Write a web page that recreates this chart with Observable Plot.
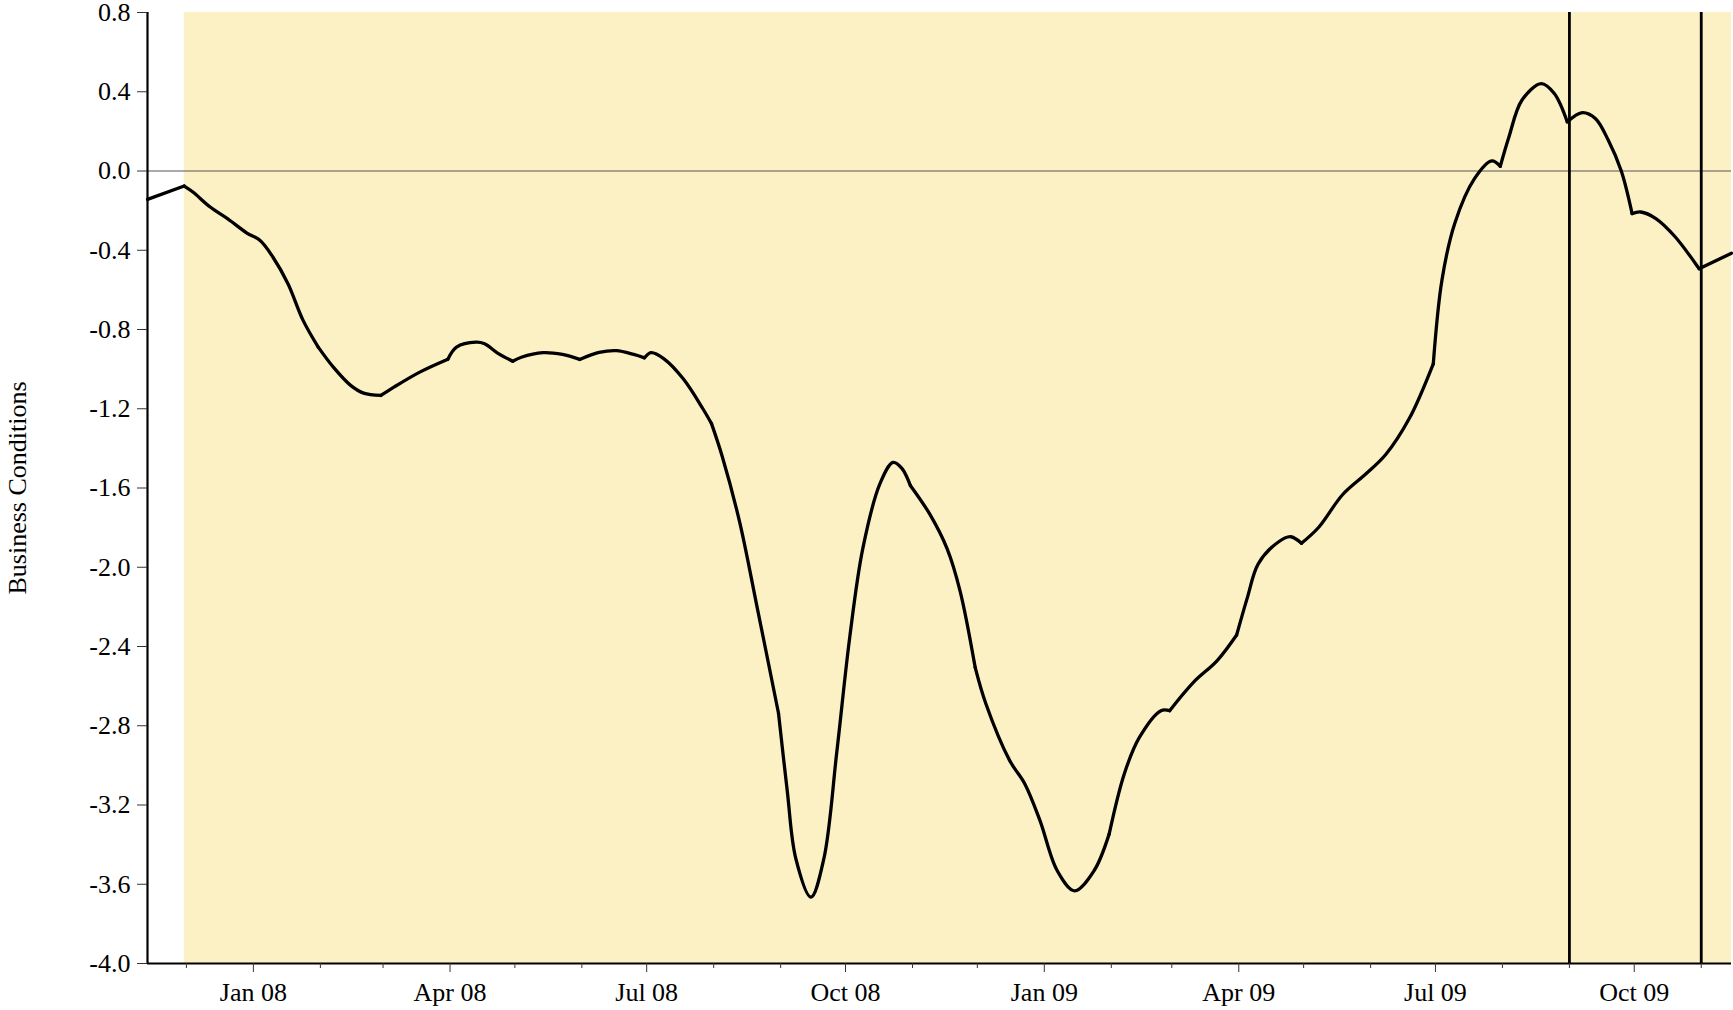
<!DOCTYPE html>
<html><head><meta charset="utf-8">
<script src="https://cdn.jsdelivr.net/npm/d3@7"></script>
<script src="https://cdn.jsdelivr.net/npm/@observablehq/plot@0.6"></script>
<style>body{margin:0;background:#fff} svg{display:block}</style>
</head><body><div id="chart"></div>
<script>
// Series
const dates = [
"2007-11-13","2007-11-30","2007-12-04","2007-12-12","2007-12-20","2007-12-29","2008-01-04","2008-01-10","2008-01-17","2008-01-24","2008-01-31",
"2008-02-07","2008-02-15","2008-02-21","2008-02-29","2008-03-06","2008-03-18","2008-03-31","2008-04-04","2008-04-13","2008-04-17","2008-04-23","2008-04-30",
"2008-05-04","2008-05-14","2008-05-23","2008-05-31","2008-06-09","2008-06-17","2008-06-25","2008-06-30","2008-07-03","2008-07-09","2008-07-18","2008-07-27","2008-07-31",
"2008-08-05","2008-08-13","2008-08-21","2008-08-31","2008-09-04","2008-09-08","2008-09-15","2008-09-21","2008-09-27","2008-10-03","2008-10-09","2008-10-17","2008-10-23","2008-10-27","2008-10-31",
"2008-11-09","2008-11-17","2008-11-23","2008-11-30","2008-12-05","2008-12-16","2008-12-23","2008-12-30","2009-01-07","2009-01-15","2009-01-24","2009-01-31",
"2009-02-07","2009-02-14","2009-02-24","2009-02-28","2009-03-11","2009-03-22","2009-03-31","2009-04-05","2009-04-10","2009-04-19","2009-04-25","2009-04-30",
"2009-05-08","2009-05-19","2009-05-30","2009-06-08","2009-06-19","2009-06-30","2009-07-04","2009-07-10","2009-07-19","2009-07-27","2009-07-31",
"2009-08-04","2009-08-10","2009-08-19","2009-08-25","2009-08-31","2009-09-07","2009-09-13","2009-09-19","2009-09-25","2009-09-30",
"2009-10-04","2009-10-11","2009-10-20","2009-10-31","2009-11-15"];
const values = [
-0.143,-0.076,-0.106,-0.182,-0.240,-0.313,-0.350,-0.434,-0.569,-0.754,-0.889,
-0.990,-1.082,-1.121,-1.133,-1.091,-1.015,-0.950,-0.889,-0.864,-0.872,-0.919,-0.960,
-0.940,-0.917,-0.926,-0.951,-0.916,-0.907,-0.926,-0.943,-0.917,-0.948,-1.050,-1.200,-1.275,
-1.442,-1.771,-2.196,-2.737,-3.124,-3.470,-3.665,-3.470,-2.930,-2.350,-1.906,-1.577,-1.471,-1.500,-1.587,
-1.732,-1.906,-2.119,-2.505,-2.690,-2.976,-3.094,-3.279,-3.532,-3.633,-3.532,-3.347,
-3.043,-2.859,-2.724,-2.724,-2.581,-2.471,-2.342,-2.152,-1.983,-1.875,-1.846,-1.879,
-1.798,-1.634,-1.527,-1.431,-1.247,-0.973,-0.551,-0.262,-0.040,0.051,0.024,
0.172,0.357,0.441,0.391,0.248,0.295,0.265,0.155,0.000,-0.215,
-0.207,-0.240,-0.333,-0.493,-0.415];
// Dates where the curve has a corner (month-end updates)
const kinkDates = ["2007-11-30","2008-01-31","2008-02-29","2008-03-31","2008-04-30","2008-05-31","2008-06-30","2008-07-31","2008-08-31","2008-10-31","2008-11-30",
"2009-01-31","2009-02-28","2009-03-31","2009-04-30","2009-06-30","2009-07-31","2009-08-31","2009-09-30","2009-10-31"];
const shadeStart = ["2007-11-30"];
const markerDates = ["2009-09-01","2009-11-01"];
const yTicks = [0.8,0.4,0.0,-0.4,-0.8,-1.2,-1.6,-2.0,-2.4,-2.8,-3.2,-3.6,-4.0];
const quarterTicks = ["2008-01-01","2008-04-01","2008-07-01","2008-10-01","2009-01-01","2009-04-01","2009-07-01","2009-10-01"];
const monthTicks = ["2007-12-01","2008-02-01","2008-03-01","2008-05-01","2008-06-01","2008-08-01","2008-09-01","2008-11-01","2008-12-01",
"2009-02-01","2009-03-01","2009-05-01","2009-06-01","2009-08-01","2009-09-01","2009-11-01"];
const yLabel = "Business Conditions";

const parse = d3.utcParse("%Y-%m-%d");
const kinks = new Set(kinkDates);
let seg = 0;
const segData = [];
dates.forEach((d, i) => {
  segData.push({date: parse(d), value: values[i], seg});
  if (kinks.has(d)) { seg++; segData.push({date: parse(d), value: values[i], seg}); }
});
const xDomain = d3.extent(dates, parse);
const yDomain = [d3.min(yTicks), d3.max(yTicks)];
const fontFamily = "'Liberation Serif', 'Times New Roman', serif";

const chart = Plot.plot({
  width: 1733, height: 1010,
  marginLeft: 147, marginRight: 2, marginTop: 12, marginBottom: 47,
  style: {fontFamily, fontSize: "26px", color: "black", background: "white", overflow: "visible"},
  x: {type: "utc", domain: xDomain},
  y: {domain: yDomain},
  marks: [
    Plot.rect(shadeStart, {x1: d => parse(d), x2: () => xDomain[1], y1: () => yDomain[0], y2: () => yDomain[1], fill: "#fcf1c4"}),
    Plot.ruleY([0], {stroke: "#555", strokeWidth: 1}),
    Plot.ruleX(markerDates.map(parse), {stroke: "black", strokeWidth: 2.8}),
    Plot.line(segData, {x: "date", y: "value", z: "seg", curve: "catmull-rom", stroke: "black", strokeWidth: 3.3, strokeLinejoin: "round"}),
    Plot.ruleX([xDomain[0]], {stroke: "black", strokeWidth: 2.2}),
    Plot.ruleY([yDomain[0]], {stroke: "black", strokeWidth: 2.2}),
    Plot.axisY(yTicks, {tickSize: 10, tickPadding: 7, tickFormat: d => d.toFixed(1), label: null, stroke: "#333", fontSize: 26}),
    Plot.axisX(quarterTicks.map(parse), {tickSize: 9, tickPadding: 10, tickFormat: d3.utcFormat("%b %y"), label: null, stroke: "#333", fontSize: 26}),
    Plot.axisX(monthTicks.map(parse), {tickSize: 5, tickFormat: () => "", label: null, stroke: "#333"}),
    Plot.text([yLabel], {frameAnchor: "left", dx: -130, rotate: -90, fontSize: 26, textAnchor: "middle", fill: "black"})
  ]
});
document.getElementById("chart").append(chart);
</script>
</body></html>
